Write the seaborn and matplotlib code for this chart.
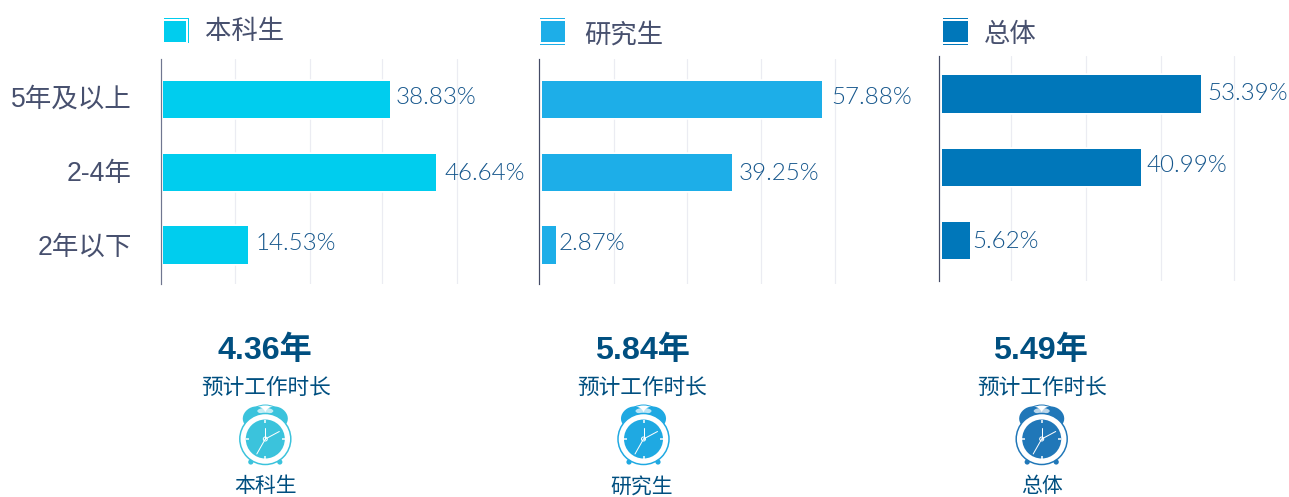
import pandas as pd
import seaborn as sns
import matplotlib.pyplot as plt
import matplotlib.patheffects as pe
from matplotlib.patches import Circle, Ellipse, Arc, Rectangle
from matplotlib.transforms import ScaledTranslation

# Data
YEARS = ['5年及以上', '2-4年', '2年以下']
GROUPS = ['本科生', '研究生', '总体']
UNDERGRAD = [38.83, 46.64, 14.53]
GRADUATE = [57.88, 39.25, 2.87]
OVERALL = [53.39, 40.99, 5.62]
MEAN_YEARS = [4.36, 5.84, 5.49]
CAPTION = '预计工作时长'

# Unlabelled gridlines, in percent units
GRID_UNDERGRAD = [12.3, 25.1, 37.4, 50.2]
GRID_GRADUATE = [14.9, 29.9, 45.2, 60.6]
GRID_OVERALL = [14.2, 29.7, 45.0, 60.1]

COLORS = ['#00cdee', '#1daee8', '#0077ba']
CLOCK_COLORS = ['#3bc3dc', '#1fa9e2', '#2077b8']
SPINE_COLORS = ['#6f7690', '#444b66', '#444b66']
TEXT_GREY = '#47506e'
LABEL_BLUE = '#15568c'
DARK_BLUE = '#004f80'

W, H = 1289, 497
PX = 0.72  # one pixel in points at dpi 100

CJK = ['Liberation Sans', 'Noto Sans CJK SC']

sns.set_theme(style='white')
plt.rcParams['font.family'] = CJK

fig = plt.figure(figsize=(W / 100, H / 100), dpi=100)


def add_axes_px(left, top, right, bottom):
    return fig.add_axes([left / W, 1 - bottom / H, (right - left) / W, (bottom - top) / H])


# axis x, bar start, px per percent, right edge, axis top/bottom, first and last bar centre,
# then label offsets from the bar end and from the bar centre, in pixels
panels = [
    (UNDERGRAD, GRID_UNDERGRAD, 160.7, 163.3, 5.85, 500, 59, 284, 99.5, 245,
     [5.5, 8, 7.5], [-2.5, 0.4, -2]),
    (GRADUATE, GRID_GRADUATE, 539.3, 542.0, 4.843, 900, 59, 284, 99.5, 245,
     [9, 6.5, 3], [-2.5, 0.4, -2]),
    (OVERALL, GRID_OVERALL, 939.3, 942.3, 4.85, 1285, 56, 281, 94, 240.5,
     [6, 5, 2.5], [-1.2, -3.2, -0.4]),
]

for i, (values, grid, axis_x, start, scale, right, top, bottom, y0, y2, pads, lifts) in enumerate(panels):
    ax = add_axes_px(axis_x, top, right, bottom)
    df = pd.DataFrame({'years': YEARS, 'share': values})
    sns.barplot(data=df, x='share', y='years', color=COLORS[i], saturation=1,
                width=0.51, orient='y', ax=ax, zorder=3)

    ax.set_xlim((axis_x - start) / scale, (right - start) / scale)
    step = (y2 - y0) / 2
    ax.set_ylim((bottom - y0) / step, (top - y0) / step)
    ax.patch.set_alpha(0)

    ax.set_xticks(grid)
    ax.set_xticklabels([])
    ax.grid(True, axis='x', color='#ebecf2', linewidth=1.2 * PX, zorder=0)
    ax.set_axisbelow(True)
    ax.tick_params(length=0)
    ax.set_xlabel('')
    ax.set_ylabel('')

    for name in ['top', 'right', 'bottom']:
        ax.spines[name].set_visible(False)
    ax.spines['left'].set_color(SPINE_COLORS[i])
    ax.spines['left'].set_linewidth(1.2 * PX)
    ax.spines['left'].set_zorder(6)

    if i == 0:
        ax.tick_params(axis='y', pad=29 * PX, labelsize=19.1, labelcolor=TEXT_GREY)
        # first two category labels sit a little above their bars
        for label, up in zip(ax.get_yticklabels(), [3, 1, 0]):
            label.set_transform(label.get_transform() + ScaledTranslation(0, up / 100, fig.dpi_scale_trans))
    else:
        ax.set_yticklabels([])

    for bar, value, pad, lift in zip(ax.patches, values, pads, lifts):
        bar.set_linewidth(0)
        bar.set_path_effects([pe.withStroke(linewidth=3.5 * PX, foreground='white')])
        ax.annotate(f'{value:.2f}%', (value, bar.get_y() + bar.get_height() / 2),
                    xytext=(pad * PX, -(lift + 1) * PX), textcoords='offset points',
                    va='center', ha='left', fontsize=17.4, color=LABEL_BLUE,
                    family='Lato', fontweight=300, zorder=5)

# Overlay in pixel coordinates for legend keys, summaries and clock icons
over = fig.add_axes([0, 0, 1, 1], zorder=10)
over.set_xlim(0, W)
over.set_ylim(H, 0)
over.axis('off')


def draw_clock(x, y, color):
    # bells and feet first, the face goes over them
    over.add_patch(Ellipse((x - 11, y - 22), 24, 20, angle=-30, color=color, lw=0))
    over.add_patch(Ellipse((x + 11, y - 22), 24, 20, angle=30, color=color, lw=0))
    over.add_patch(Ellipse((x, y - 28), 16, 6, facecolor='white', alpha=0.7, lw=0))
    over.add_patch(Arc((x, y - 19), 36, 30, theta1=205, theta2=335, color=color, lw=1 * PX))
    for dx in (-14.5, 14.5):
        over.add_patch(Circle((x + dx, y + 23), 2.6, color=color, lw=0))
    over.add_patch(Circle((x, y), 25.5, facecolor='white', edgecolor=color, lw=1.5 * PX))
    over.add_patch(Circle((x, y), 19.5, color=color, lw=0))
    for dx, dy in [(0, -1), (1, 0), (0, 1), (-1, 0)]:
        over.plot([x + dx * 16.5, x + dx * 19.5], [y + dy * 16.5, y + dy * 19.5],
                  color='white', lw=1.5 * PX, solid_capstyle='butt')
    over.plot([x, x], [y, y - 11], color='white', lw=1 * PX)
    over.plot([x, x + 14], [y, y - 7.5], color='white', lw=1 * PX)
    over.plot([x, x - 8.5], [y, y + 15], color='white', lw=1 * PX)
    over.add_patch(Circle((x, y), 2, facecolor=color, edgecolor='white', lw=1 * PX))


key_x = [164.3, 540.7, 943.3]
key_w = [21.7, 24.3, 24.2]
name_x = [205, 584, 984]
name_y = [32, 35, 35]
summary_x = [264.5, 643, 1040.5]
caption_x = [266, 642, 1042]
clock_x = [265.3, 643.5, 1041.7]
group_x = [266, 642, 1042]

for i, group in enumerate(GROUPS):
    over.add_patch(Rectangle((key_x[i], 21), key_w[i], 21, color=COLORS[i], lw=0))
    if i == 0:
        over.add_patch(Rectangle((key_x[i], 18), 24.5, 1.2, color=COLORS[i], lw=0))
        over.add_patch(Rectangle((187.8, 18), 1.2, 25, color=COLORS[i], lw=0))
    else:
        over.add_patch(Rectangle((key_x[i] - 0.5, 18), key_w[i] + 0.5, 1.2, color=COLORS[i], lw=0))
        over.add_patch(Rectangle((key_x[i] - 0.5, 44), key_w[i] + 0.5, 1.2, color=COLORS[i], lw=0))

    over.text(name_x[i], name_y[i], group, fontsize=19, color=TEXT_GREY, ha='left', va='center')
    over.text(summary_x[i], 351, f'{MEAN_YEARS[i]:.2f}年', fontsize=23.2, fontweight='bold',
              color=DARK_BLUE, ha='center', va='center')
    over.text(caption_x[i], 388, CAPTION, fontsize=15.6, fontweight=500, color=DARK_BLUE,
              ha='center', va='center')
    draw_clock(clock_x[i], 439, CLOCK_COLORS[i])
    over.text(group_x[i], 486.5, group, fontsize=15, fontweight=500, color=DARK_BLUE,
              ha='center', va='center')

fig.savefig('out.png', dpi=100)
